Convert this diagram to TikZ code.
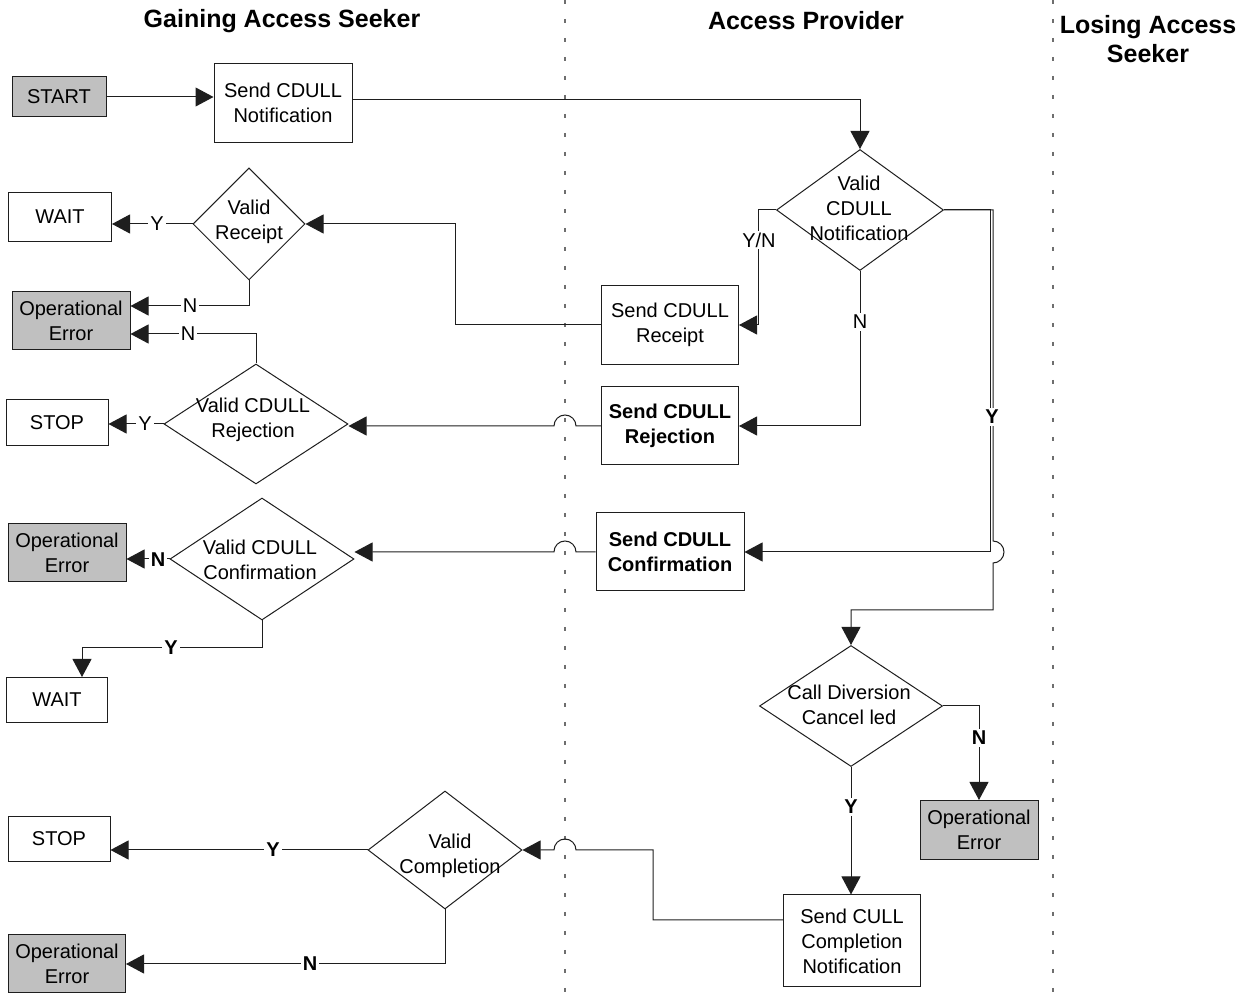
\documentclass[tikz,border=0pt]{standalone}
\usepackage{fontspec}
\setmainfont{Liberation Sans}
\usetikzlibrary{shapes.geometric,arrows.meta}
\definecolor{boxgray}{RGB}{192,192,192}
\definecolor{linec}{RGB}{30,30,30}
\definecolor{lanec}{RGB}{110,110,110}
\begin{document}
\begin{tikzpicture}[x=0.5pt,y=-0.5pt,
  every node/.style={font=\fontsize{10}{12.5}\selectfont},
  box/.style={draw=linec, line width=0.5pt, fill=white, inner sep=0pt, align=center},
  errbox/.style={box, fill=boxgray},
  dia/.style={diamond, draw=linec, line width=0.5pt, fill=white, inner sep=0pt},
  txt/.style={align=center, inner sep=0pt},
  conn/.style={draw=linec, line width=0.5pt, -{Triangle[length=9pt,width=9.5pt]}},
  yn/.style={fill=white, inner sep=1pt},
  ynb/.style={yn, font=\fontsize{10}{12.5}\selectfont\bfseries},
  lane/.style={draw=lanec, line width=0.8pt, dash pattern=on 2pt off 7.5pt},
  head/.style={font=\fontsize{12.5}{14.5}\selectfont\bfseries, align=center}
]
\useasboundingbox (0,0) rectangle (1250,994);

% swimlane separators
\draw[lane] (565,0) -- (565,994);
\draw[lane] (1053,0) -- (1053,994);

% lane headings
\node[head] (h1) at (282,21) {Gaining Access Seeker};
\node[head] (h2) at (806,21) {Access Provider};
\node[head] (h3) at (1148,39) {Losing Access\\Seeker};

% boxes
\node[errbox, minimum width=47pt, minimum height=20pt] (start) at (59,97) {START};
\node[box, minimum width=69pt, minimum height=39.5pt] (notif) at (283,103) {Send CDULL\\Notification};
\node[box, minimum width=51.5pt, minimum height=24.5pt] (wait1) at (60,217) {WAIT};
\node[errbox, minimum width=59pt, minimum height=29pt] (err1) at (71,321) {Operational\\Error};
\node[box, minimum width=68.5pt, minimum height=39.5pt] (receipt) at (670,325) {Send CDULL\\Receipt};
\node[box, minimum width=51pt, minimum height=23pt] (stop1) at (57,423) {STOP};
\node[box, minimum width=68.5pt, minimum height=39pt, font=\fontsize{10}{12.5}\selectfont\bfseries] (rejbox) at (670,426) {Send CDULL\\Rejection};
\node[errbox, minimum width=59pt, minimum height=29pt] (err2) at (67,553) {Operational\\Error};
\node[box, minimum width=74pt, minimum height=39pt, font=\fontsize{10}{12.5}\selectfont\bfseries] (confbox) at (670,552) {Send CDULL\\Confirmation};
\node[box, minimum width=50.5pt, minimum height=22.5pt] (wait2) at (57,700) {WAIT};
\node[errbox, minimum width=59pt, minimum height=29.5pt] (err3) at (979,830) {Operational\\Error};
\node[box, minimum width=51pt, minimum height=22.5pt] (stop2) at (59,839) {STOP};
\node[box, minimum width=68.5pt, minimum height=46pt] (cull) at (852,941) {Send CULL\\Completion\\Notification};
\node[errbox, minimum width=58.5pt, minimum height=29pt] (err4) at (67,964) {Operational\\Error};

% decisions
\node[dia, minimum width=83.5pt, minimum height=60.5pt] (vnotif) at (860,210) {};
\node[txt] (vnotift) at (859,208) {Valid\\CDULL\\Notification};
\node[dia, minimum width=56pt, minimum height=56pt] (vrec) at (249,224) {};
\node[txt] (vrect) at (249,222) {Valid\\Receipt};
\node[dia, minimum width=92pt, minimum height=60pt] (vrej) at (256,424) {};
\node[txt] (vrejt) at (253,420) {Valid CDULL\\Rejection};
\node[dia, minimum width=92pt, minimum height=61pt] (vconf) at (262,559) {};
\node[txt] (vconft) at (260,560) {Valid CDULL\\Confirmation};
\node[dia, minimum width=91.5pt, minimum height=60.5pt] (cdiv) at (851,706) {};
\node[txt] (cdivt) at (849,705) {Call Diversion\\Cancel led};
\node[dia, minimum width=77pt, minimum height=59pt] (vcomp) at (445,850) {};
\node[txt] (vcompt) at (450,856) {Valid\\Completion};

% connectors
\draw[conn] (start.east) -- (start.east -| notif.west);
\draw[conn] ([yshift=1.5pt]notif.east) -- ([yshift=1.5pt]notif.east -| vnotif.north) -- (vnotif.north);
\draw[conn] (vnotif.west) -- ++(-18,0) |- (receipt.east);
\draw[conn] (vnotif.south) |- (rejbox.east);
\draw[conn] (vnotif.east) -- (990,210) |- (confbox.east);
\draw[conn] (vnotif.east) -- (993,210) -- (993,541)
  arc[start angle=90, end angle=-90, radius=5.5pt] -- (993,610) -| (cdiv.north);
\draw[conn] (receipt.west) -- (455,325) |- (vrec.east);
\draw[conn] (vrec.west) -- (vrec.west -| wait1.east);
\draw[conn] (vrec.south) |- ([yshift=7.5pt]err1.east);
\draw[conn] (vrej.north) |- ([yshift=-6.5pt]err1.east);
\draw[conn] (vrej.west) -- (vrej.west -| stop1.east);
\draw[conn] (rejbox.west) -- (576,426)
  arc[start angle=0, end angle=180, radius=5.5pt] -- (vrej.east |- rejbox.west);
\draw[conn] (confbox.west) -- (576,552)
  arc[start angle=0, end angle=180, radius=5.5pt] -- (vconf.east |- confbox.west);
\draw[conn] (vconf.west) -- (vconf.west -| err2.east);
\draw[conn] (vconf.south) -- (262,648) -| ([xshift=12.5pt]wait2.north);
\draw[conn] (cdiv.east) -| (err3.north);
\draw[conn] (cdiv.south) -- (cdiv.south |- cull.north);
\draw[conn] ([yshift=10.5pt]cull.west) -| (653,850) -- (576,850)
  arc[start angle=0, end angle=180, radius=5.5pt] -- (vcomp.east);
\draw[conn] (vcomp.west) -- (vcomp.west -| stop2.east);
\draw[conn] (vcomp.south) |- (err4.east);

% branch labels
\node[yn] (l1) at (157,224) {Y};
\node[yn] (l2) at (190,306) {N};
\node[yn] (l3) at (188,334) {N};
\node[yn] (l4) at (145,424) {Y};
\node[yn] (l5) at (759,240) {Y/N};
\node[yn] (l6) at (860,322) {N};
\node[ynb] (l7) at (992,417) {Y};
\node[ynb] (l8) at (158,560) {N};
\node[ynb] (l9) at (171,648) {Y};
\node[ynb] (l10) at (979,738) {N};
\node[ynb] (l11) at (851,807) {Y};
\node[ynb] (l12) at (273,850) {Y};
\node[ynb] (l13) at (310,964) {N};
\end{tikzpicture}
\end{document}
